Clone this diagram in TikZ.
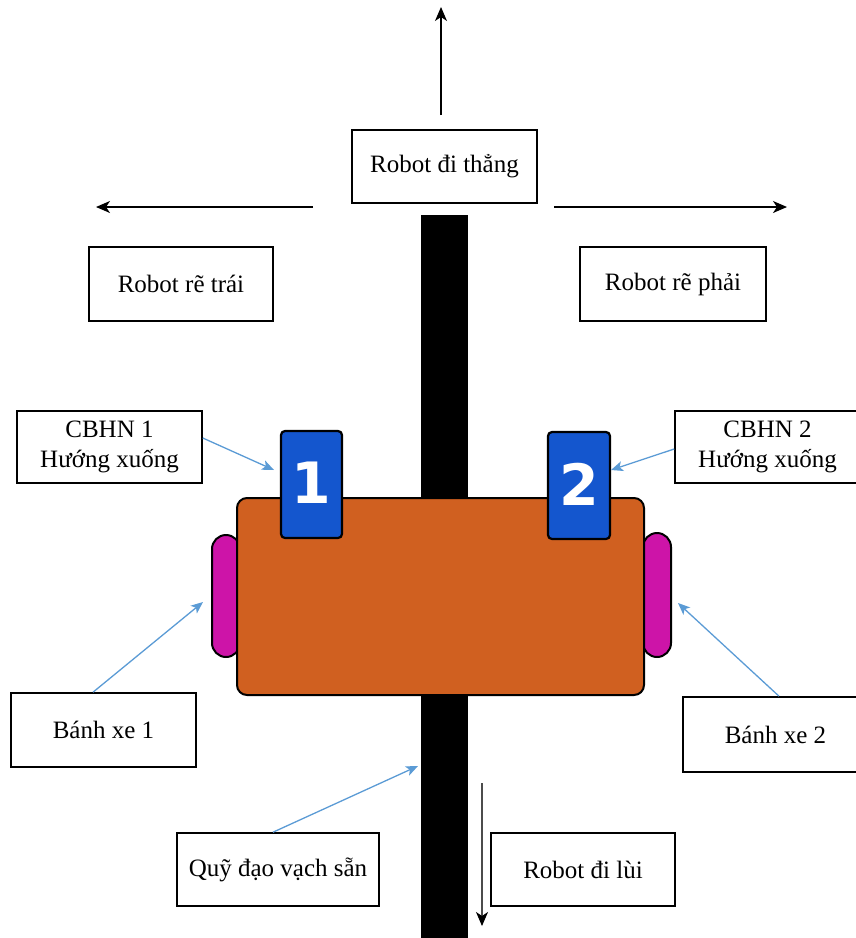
\documentclass[tikz,border=0pt]{standalone}
\usepackage{fontspec}
\setmainfont{Liberation Serif}
\newfontfamily\digitfont{DejaVu Sans}
\usetikzlibrary{arrows.meta}

\definecolor{bodyorange}{RGB}{208,96,32}
\definecolor{sensorblue}{RGB}{20,86,206}
\definecolor{wheelmagenta}{RGB}{205,20,168}
\definecolor{leaderblue}{RGB}{91,155,213}

\begin{document}
\begin{tikzpicture}[x=1pt,y=-1pt,
  labelbox/.style={draw=black, line width=1.6pt, fill=white, inner sep=0pt,
    font=\fontsize{25}{30}\selectfont, align=center},
  motion/.style={line width=1.3pt, -{Stealth[length=14pt,width=12pt,inset=4pt]}},
  leader/.style={draw=leaderblue, line width=1.3pt,
    -{Stealth[length=12pt,width=10pt,inset=3pt]}},
  outline/.style={draw=black, line width=2pt},
  digit/.style={text=white, font=\digitfont\bfseries\fontsize{57}{57}\selectfont, inner sep=0pt}
]
\useasboundingbox (0,0) rectangle (856,938);

% pre-drawn line the robot follows
\fill[black] (421,215) rectangle (468,938);

% wheels
\draw[outline, fill=wheelmagenta, rounded corners=14pt] (212,535) rectangle (240,657);
\draw[outline, fill=wheelmagenta, rounded corners=14pt] (643,533) rectangle (671,657);

% chassis
\draw[outline, fill=bodyorange, rounded corners=10pt] (237,498) rectangle (644,695);

% line sensors
\draw[outline, line width=2.2pt, fill=sensorblue, rounded corners=4pt] (281,431) rectangle (342,538);
\draw[outline, line width=2.2pt, fill=sensorblue, rounded corners=4pt] (548,432) rectangle (610,539);
\node[digit] (d1) at (311.5,483) {1};
\node[digit] (d2) at (579,484) {2};

% label boxes
\node[labelbox, minimum width=185pt, minimum height=73pt] (straight) at (444.5,166.5) {Robot đi thẳng};
\node[labelbox, minimum width=184pt, minimum height=74pt] (left) at (181,284) {Robot rẽ trái};
\node[labelbox, minimum width=186pt, minimum height=74pt] (right) at (673,284) {Robot rẽ phải};
\node[labelbox, minimum width=185pt, minimum height=72pt] (cb1) at (109.5,447) {CBHN 1\\Hướng xuống};
\node[labelbox, minimum width=185pt, minimum height=72pt] (cb2) at (767.5,447) {CBHN 2\\Hướng xuống};
\node[labelbox, minimum width=185pt, minimum height=74pt] (wb1) at (103.5,730) {Bánh xe 1};
\node[labelbox, minimum width=185pt, minimum height=75pt] (wb2) at (775.5,734.5) {Bánh xe 2};
\node[labelbox, minimum width=202pt, minimum height=73pt] (track) at (278,869.5) {Quỹ đạo vạch sẵn};
\node[labelbox, minimum width=184pt, minimum height=73pt] (back) at (583,869.5) {Robot đi lùi};

% motion directions
\coordinate (upS) at (441,115);   \coordinate (upE) at (441,7);
\coordinate (lfS) at (313,207);   \coordinate (lfE) at (96,207);
\coordinate (rtS) at (554,207);   \coordinate (rtE) at (787,207);
\coordinate (bkS) at (482,783);   \coordinate (bkE) at (482,926);
\draw[motion] (upS) -- (upE);
\draw[motion] (lfS) -- (lfE);
\draw[motion] (rtS) -- (rtE);
\draw[motion, draw=black!70, -{Stealth[length=14pt,width=12pt,inset=4pt,black]}] (bkS) -- (bkE);

% pointers to the parts
\coordinate (s1) at (274,470);
\coordinate (s2) at (611,470);
\coordinate (w1) at (203,602);
\coordinate (w2) at (678,603);
\coordinate (ln) at (418,766);
\draw[leader] ([yshift=9pt]cb1.east) -- (s1);
\draw[leader] ([yshift=-2pt]cb2.west) -- (s2);
\draw[leader] ([xshift=-10.5pt]wb1.north) -- (w1);
\draw[leader] ([xshift=3.5pt]wb2.north) -- (w2);
\draw[leader] ([xshift=-5pt]track.north) -- (ln);
\end{tikzpicture}
\end{document}
